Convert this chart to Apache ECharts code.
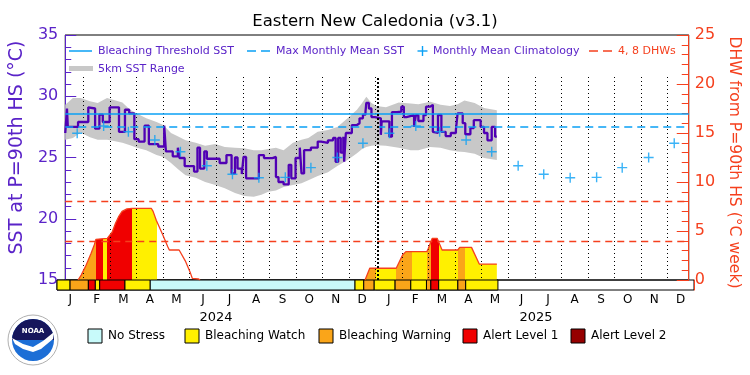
<!DOCTYPE html>
<html>
<head>
<meta charset="utf-8">
<script src="https://cdn.jsdelivr.net/npm/echarts@6/dist/echarts.min.js"></script>
<style>html,body{margin:0;padding:0;background:#fff}#chart{width:750px;height:375px}</style>
</head>
<body>
<div id="chart"></div>
<script>
// x values are days counted from 1 Jan 2024
const months = ['J','F','M','A','M','J','J','A','S','O','N','D','J','F','M','A','M','J','J','A','S','O','N','D'];

const sstDays = [0,2,3,15,27,29,35,40,44,52,63,70,75,81,86,93,98,109,116,118,126,132,134,140,151,155,158,163,166,181,189,195,199,202,207,209,212,227,233,243,247,250,256,262,265,270,275,277,280,288,296,300,308,314,317,320,323,326,327,329,336,342,345,349,352,353,356,359,363,370,371,380,383,389,394,397,400,409,411,414,420,423,428,431,433,437,441,446,452,458,460,466,469,475,479,487,491,495,500,504,506];
const sstValues = [27.0,29.0,27.5,27.9,29.1,29.0,27.35,28.5,27.9,29.1,27.1,28.9,28.6,26.5,26.3,27.6,26.1,25.9,27.6,25.5,25.1,25.8,24.96,24.3,23.85,25.8,24.1,25.5,24.9,24.55,25.2,23.7,25.0,24.1,23.65,25.05,23.3,25.2,24.95,25.05,23.4,23.0,22.8,24.4,23.3,24.96,25.8,23.7,25.6,25.8,26.3,26.2,26.4,26.6,24.65,26.6,25.4,26.7,24.65,27.0,27.65,27.8,28.2,28.5,28.75,29.45,29.0,28.3,28.2,26.85,27.95,26.7,28.7,28.75,29.15,28.3,28.45,27.5,28.45,27.98,28.47,29.15,29.3,27.1,27.0,28.47,27.1,26.75,27.0,27.25,28.6,27.8,26.9,27.4,28.05,27.5,27.0,26.4,27.5,26.7,26.7];

const bandDays = [0,9,18,29,38,49,57,67,76,84,95,107,115,124,133,141,153,164,176,187,199,210,221,230,238,247,256,267,277,285,296,308,319,331,342,348,353,359,365,376,391,405,414,428,440,451,460,468,480,491,506];
const bandHigh = [29.3,29.85,29.85,29.6,29.45,29.85,29.7,29.5,28.9,28.6,28.2,27.9,27.65,27.0,26.7,26.4,26.2,25.95,26.1,25.85,25.8,25.75,25.6,25.6,25.7,25.8,25.6,26.2,26.45,26.6,27.1,27.25,27.5,28.2,28.9,29.45,29.95,29.45,29.2,29.1,29.5,29.4,29.35,29.55,29.3,29.2,29.35,29.65,29.45,29.05,28.85];
const bandLow = [26.45,26.6,27.05,26.65,26.45,26.45,26.35,26.2,26.0,25.8,25.6,25.2,25.05,24.55,24.0,23.55,23.35,23.0,22.75,22.5,22.1,21.85,21.8,21.95,22.2,22.3,22.6,22.75,22.9,23.15,23.5,23.8,24.3,24.8,25.35,25.7,25.85,25.95,26.0,25.95,25.8,25.6,25.6,25.85,25.8,25.6,25.5,25.45,25.3,24.95,24.8];

const climDays = [14,45,74,105,135,166,196,227,258,288,319,349,380,411,439,470,500,531,561,592,623,653,684,714];
const climMonthly = [26.98,27.57,27.1,26.43,25.47,24.33,23.63,23.35,23.38,24.17,25.0,26.16];

const threshold = 28.55;
const mmm = 27.55;
const dhwLevels = [4, 8];
const yearStartDay = 366;

const dhwDays = [15,18.7,24.4,30.2,34.1,35.9,49.3,55.1,58.9,62.8,66.6,72.3,78,101,103,106.7,114.4,120.2,122,133.5,141.2,146.9,148.9,156.4,158,250,351.5,357,388,391.7,395.5,399.4,424,425.5,430.3,436,441.8,460.2,462.5,476.3,485.4,506];
const dhwValues = [0,0.5,1.5,2.7,3.6,4.15,4.25,4.9,5.8,6.5,7.0,7.25,7.3,7.3,7.0,6.1,4.6,3.4,3.06,3.06,1.87,0.68,0.17,0.1,0,'-',0,1.2,1.2,1.87,2.55,2.9,2.9,3.2,4.25,4.25,3.06,3.06,3.33,3.33,1.63,1.63];

const stressStart = [0,15,36,44,49,78,107,342,352,364,388,406,424,429,438,460,469];
const stressEnd   = [15,36,44,49,78,107,342,352,364,388,406,424,429,438,460,469,506];
const stressLevel = [1,2,3,1,3,1,0,1,2,1,2,1,2,3,1,2,1];
const stressNames = ['No Stress','Bleaching Watch','Bleaching Warning','Alert Level 1','Alert Level 2'];

const purple = '#5a23c8';
const sstColor = '#5000b4';
const blue = '#0aa0f5';
const red = '#f5401e';
const stressColors = ['#c8fafa','#fff000','#faa519','#f00000','#960000'];
const font = 'DejaVu Sans';

const zip = (xs, ys) => xs.map((x, i) => [x, ys[i]]);
const climValues = climDays.map((d, i) => climMonthly[i % 12]);
const plus = 'path://M0,4.3H10V5.7H0ZM4.3,0H5.7V10H4.3Z';

const chart = echarts.init(document.getElementById('chart'));

// legends and title as graphic elements
const txt = (x, y, text, color, size, align) => ({
  type: 'text', x: x, y: y, silent: true,
  style: {text: text, fill: color, font: size + 'px "' + font + '"', textAlign: align || 'left', textVerticalAlign: 'middle', align: align || 'left', verticalAlign: 'middle'}
});
const hline = (x1, x2, y, color, dash, w) => ({
  type: 'line', silent: true, shape: {x1: x1, y1: y, x2: x2, y2: y},
  style: {stroke: color, lineWidth: w || 1.5, lineDash: dash || null}
});

const graphics = [
  txt(375, 22, 'Eastern New Caledonia (v3.1)', '#000', 16.5, 'center'),
  hline(69, 92, 51, blue),
  txt(98, 51, 'Bleaching Threshold SST', purple, 11),
  hline(247, 270, 51, blue, [9, 5]),
  txt(276, 51, 'Max Monthly Mean SST', purple, 11),
  hline(417.5, 427.5, 51, blue, null, 1.4),
  {type: 'line', silent: true, shape: {x1: 422.5, y1: 46, x2: 422.5, y2: 56}, style: {stroke: blue, lineWidth: 1.4}},
  txt(433, 51, 'Monthly Mean Climatology', purple, 11),
  hline(589, 613, 51, red, [9, 5], 1.3),
  txt(618, 51, '4, 8 DHWs', red, 11),
  {type: 'rect', silent: true, shape: {x: 69, y: 66, width: 24, height: 5}, style: {fill: '#c8c8c8'}},
  txt(98, 69, '5km SST Range', purple, 11),
  txt(216, 318, '2024', '#000', 13, 'center'),
  txt(536, 318, '2025', '#000', 13, 'center')
];
const boxX = [88, 185, 319, 463, 571];
stressNames.forEach((name, i) => {
  graphics.push({type: 'rect', silent: true, shape: {x: boxX[i], y: 329, width: 14, height: 14},
    style: {fill: stressColors[i], stroke: '#000', lineWidth: 1}});
  graphics.push(txt(boxX[i] + 20, 336, name, '#000', 12));
});
// NOAA logo, roughly
graphics.push({
  type: 'group', x: 33, y: 340, silent: true,
  children: [
    {type: 'circle', shape: {r: 25}, style: {fill: '#fff', stroke: '#b0b0b0', lineWidth: 1}},
    {type: 'circle', shape: {r: 21}, style: {fill: '#1c6ed6'}},
    {type: 'sector', shape: {r: 21, startAngle: Math.PI, endAngle: Math.PI * 2}, style: {fill: '#16165c'}},
    {type: 'polygon', shape: {points: [[-21, -2], [-10, 4], [0, 7], [10, 1], [21, -8], [20, -1], [8, 9], [0, 12], [-10, 9], [-18, 4]]}, style: {fill: '#fff'}},
    {type: 'text', x: 0, y: -9, style: {text: 'NOAA', fill: '#fff', font: 'bold 7px "' + font + '"', textAlign: 'center', textVerticalAlign: 'middle', align: 'center', verticalAlign: 'middle'}}
  ]
});

const option = {
  animation: false,
  backgroundColor: '#fff',
  textStyle: {fontFamily: font},
  grid: [
    {left: 57, right: 56, top: 35, height: 245, show: true, borderColor: '#000', borderWidth: 1},
    {left: 57, right: 56, top: 280, height: 10, show: true, borderColor: '#000', borderWidth: 1},
    {left: 57, right: 56, top: 77, height: 203}
  ],
  xAxis: [
    {gridIndex: 0, type: 'value', min: 0, max: 731, show: false},
    {gridIndex: 1, type: 'value', min: 0, max: 731, show: false},
    {gridIndex: 2, type: 'category', data: months, boundaryGap: true, z: 3,
      axisLine: {show: false}, axisTick: {show: false},
      axisLabel: {color: '#000', fontSize: 12, margin: 14},
      splitLine: {show: true, showMinLine: false, showMaxLine: false, lineStyle: {color: '#000', type: [1, 3], width: 1}}}
  ],
  yAxis: [
    {gridIndex: 0, type: 'value', min: 15, max: 35, interval: 5, position: 'left',
      axisLine: {show: true, lineStyle: {color: purple}},
      axisTick: {show: true, inside: true, length: 11, lineStyle: {color: purple}},
      minorTick: {show: true, splitNumber: 5, length: 6, lineStyle: {color: purple}},
      splitLine: {show: false},
      axisLabel: {color: purple, fontSize: 16, margin: 7},
      name: 'SST at P=90th HS (°C)', nameLocation: 'middle', nameGap: 29, nameRotate: 90,
      nameTextStyle: {color: purple, fontSize: 19, padding: [0, 0, 0, 20]}},
    {gridIndex: 0, type: 'value', min: 0, max: 25, interval: 5, position: 'right',
      axisLine: {show: true, lineStyle: {color: red}},
      axisTick: {show: true, inside: true, length: 12, lineStyle: {color: red}},
      minorTick: {show: true, splitNumber: 5, length: 7, lineStyle: {color: red}},
      splitLine: {show: false},
      axisLabel: {color: red, fontSize: 16, margin: 6},
      name: 'DHW from P=90th HS (°C week)', nameLocation: 'middle', nameGap: 30, nameRotate: -90,
      nameTextStyle: {color: red, fontSize: 15.6, padding: [0, 0, 0, 10]}},
    {gridIndex: 1, type: 'value', min: 0, max: 1, position: 'left',
      axisLine: {show: true, lineStyle: {color: purple}}, axisTick: {show: false}, axisLabel: {show: false}, splitLine: {show: false}},
    {gridIndex: 1, type: 'value', min: 0, max: 1, position: 'right',
      axisLine: {show: true, lineStyle: {color: red}}, axisTick: {show: false}, axisLabel: {show: false}, splitLine: {show: false}},
    {gridIndex: 2, type: 'value', show: false}
  ],
  visualMap: {
    type: 'piecewise', show: false, dimension: 0, seriesIndex: 3,
    pieces: stressStart.map((s, i) => ({gte: s, lt: stressEnd[i],
      color: stressLevel[i] === 0 ? 'rgba(255,255,255,0)' : stressColors[stressLevel[i]]})),
    outOfRange: {color: 'rgba(255,255,255,0)'}
  },
  series: [
    {name: '5km SST Range', type: 'custom', xAxisIndex: 0, yAxisIndex: 0, silent: true, z: 1,
      data: [[bandDays[0], bandLow[0], bandHigh[0]]],
      renderItem: (params, api) => {
        const top = bandDays.map((d, i) => api.coord([d, bandHigh[i]]));
        const bottom = bandDays.map((d, i) => api.coord([d, bandLow[i]])).reverse();
        return {type: 'polygon', shape: {points: top.concat(bottom)}, style: {fill: '#c8c8c8'}};
      }},
    {name: 'SST', type: 'line', xAxisIndex: 0, yAxisIndex: 0, step: 'end', silent: true,
      data: zip(sstDays, sstValues), symbol: 'none', lineStyle: {color: sstColor, width: 2.3}, z: 4,
      markLine: {symbol: 'none', silent: true, label: {show: false}, z: 5,
        data: [
          {yAxis: threshold, lineStyle: {color: blue, width: 1.5, type: 'solid'}},
          {yAxis: mmm, lineStyle: {color: blue, width: 1.5, type: [8, 5]}}
        ]}},
    {name: 'Monthly Mean Climatology', type: 'scatter', xAxisIndex: 0, yAxisIndex: 0, silent: true,
      data: zip(climDays, climValues), symbol: plus, symbolSize: 10, itemStyle: {color: blue}, z: 6},
    {name: 'dhw-fill', type: 'line', xAxisIndex: 0, yAxisIndex: 1, silent: true,
      data: zip(dhwDays, dhwValues), symbol: 'none', lineStyle: {width: 0}, areaStyle: {opacity: 1}, z: 2},
    {name: 'DHW', type: 'line', xAxisIndex: 0, yAxisIndex: 1, silent: true,
      data: zip(dhwDays, dhwValues), symbol: 'none', lineStyle: {color: red, width: 1.3}, z: 4,
      markLine: {symbol: 'none', silent: true, label: {show: false}, z: 5,
        data: dhwLevels.map(v => ({yAxis: v, lineStyle: {color: red, width: 1.3, type: [7, 5]}})).concat([
          [{coord: [yearStartDay, 0], lineStyle: {color: '#000', width: 2, type: [2, 2]}}, {coord: [yearStartDay, 20.7]}]
        ])}},
    {name: 'Stress', type: 'custom', xAxisIndex: 1, yAxisIndex: 2, silent: true, z: 3,
      data: stressStart.map((s, i) => [s, stressEnd[i], stressLevel[i]]),
      renderItem: (params, api) => {
        const p0 = api.coord([api.value(0), 1]);
        const p1 = api.coord([api.value(1), 0]);
        return {type: 'rect', shape: {x: p0[0], y: p0[1], width: p1[0] - p0[0], height: p1[1] - p0[1]},
          style: {fill: stressColors[api.value(2)], stroke: '#000', lineWidth: 1}};
      }}
  ],
  graphic: {elements: graphics}
};
chart.setOption(option);
</script>
</body>
</html>
